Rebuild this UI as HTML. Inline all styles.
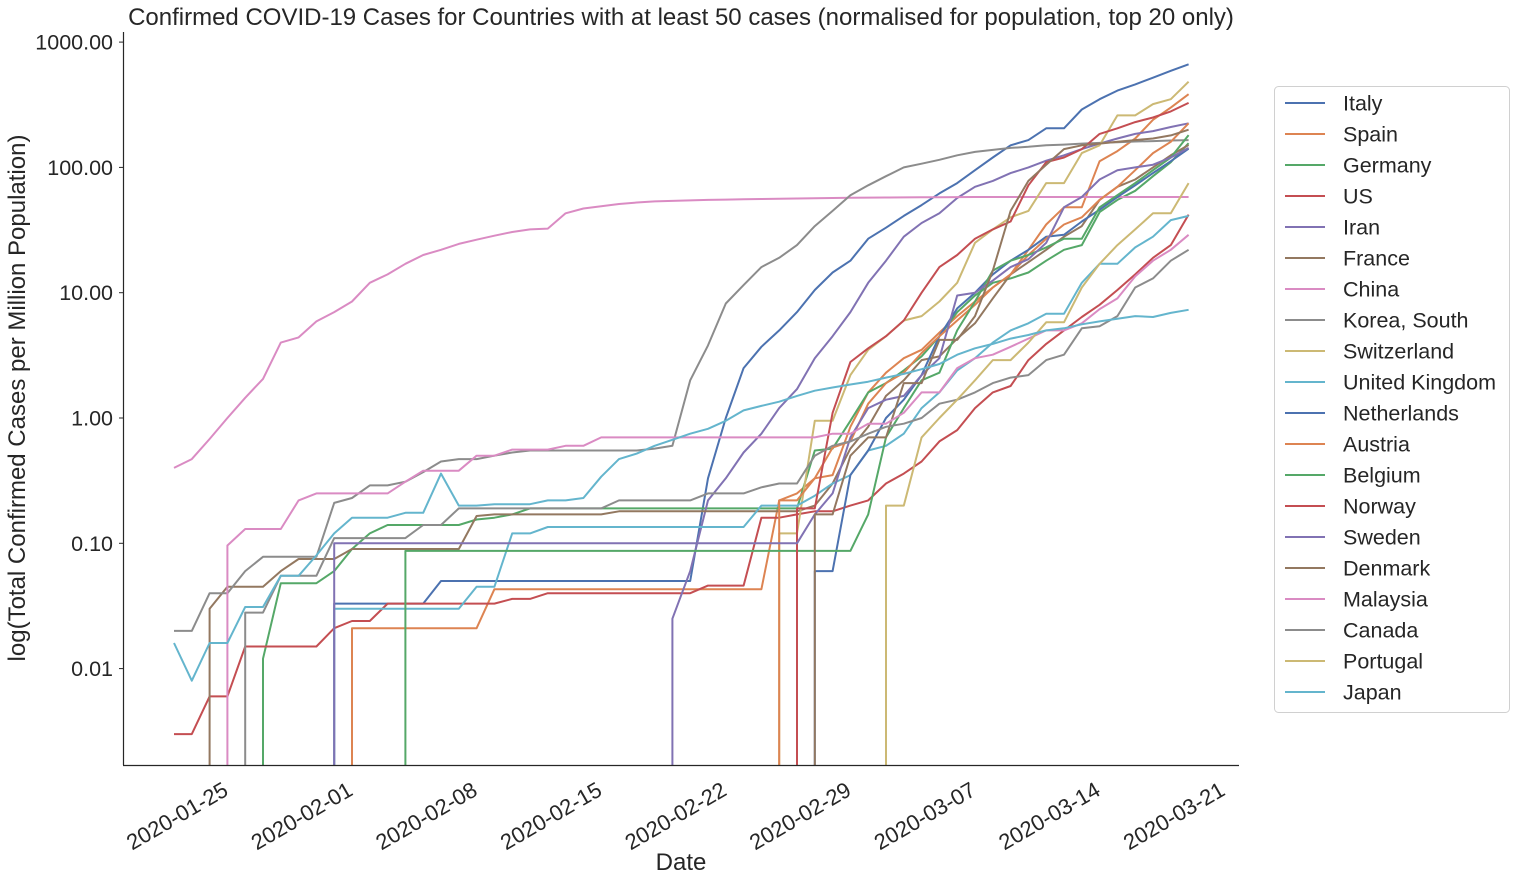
<!DOCTYPE html>
<html><head><meta charset="utf-8">
<style>
html,body{margin:0;padding:0;background:#fff;overflow:hidden;width:1515px;height:883px;}
svg{display:block;}
svg text{font-family:"Liberation Sans","DejaVu Sans",sans-serif;fill:#262626;}
</style></head>
<body>
<svg id="chart" width="1515" height="883" xmlns="http://www.w3.org/2000/svg">
<defs><clipPath id="plotclip"><rect x="123" y="32" width="1115" height="733"/></clipPath></defs>
<text x="681" y="25" font-size="24" text-anchor="middle">Confirmed COVID-19 Cases for Countries with at least 50 cases (normalised for population, top 20 only)</text>
<text transform="translate(25,398) rotate(-90)" font-size="24" text-anchor="middle">log(Total Confirmed Cases per Million Population)</text>
<text x="681" y="870" font-size="24" text-anchor="middle">Date</text>
<g id="series" clip-path="url(#plotclip)"></g>
<line x1="123.5" y1="32" x2="123.5" y2="765" stroke="#262626" stroke-width="1.2"/>
<line x1="123" y1="765.5" x2="1239" y2="765.5" stroke="#262626" stroke-width="1.2"/>
<g id="yticks"></g><g id="xticks"></g>
<g id="legend"></g>
</svg>
<script>
const countries=["Italy","Spain","Germany","US","Iran","France","China","Korea, South","Switzerland","United Kingdom","Netherlands","Austria","Belgium","Norway","Sweden","Denmark","Malaysia","Canada","Portugal","Japan"];
const colors=["#4C72B0","#DD8452","#55A868","#C44E52","#8172B3","#937860","#DA8BC3","#8C8C8C","#CCB974","#64B5CD"];
const yTickValues=[0.01,0.1,1,10,100,1000];
const yTickLabels=["0.01","0.10","1.00","10.00","100.00","1000.00"];
const xTickDays=[3,10,17,24,31,38,45,52,59];
const xTickLabels=["2020-01-25","2020-02-01","2020-02-08","2020-02-15","2020-02-22","2020-02-29","2020-03-07","2020-03-14","2020-03-21"];
function z(n){return Array(n).fill(0);}
function r(v,n){return Array(n).fill(v);}
const italy=[...z(9),...r(0.033,6),...r(0.05,15),0.33,1.0,2.5,3.7,5.0,7.0,10.5,14.5,18,27,33,41,50,62,75,95,120,150,165,205,205,290,350,410,460,520,590,665];
const spain=[...z(10),...r(0.021,8),...r(0.043,16),0.22,0.25,0.33,0.35,0.85,1.6,2.3,3.0,3.5,4.8,6.5,8.5,11,14,22,35,48,48,112,135,170,240,300,384];
const germany=[0,0,0,0,0,0.012,0.048,0.048,0.048,0.06,0.09,0.12,0.14,0.14,0.14,0.14,0.14,0.155,0.16,0.17,...r(0.19,16),0.55,0.57,0.95,1.6,1.9,2.4,3.1,4.5,7,9.5,12,13,14.5,18,22,24,44,55,65,85,110,156];
const us=[0.003,0.003,0.006,0.006,0.015,0.015,0.015,0.015,0.015,0.021,0.024,0.024,0.033,0.033,0.033,0.033,0.033,0.033,0.033,0.036,0.036,...r(0.04,9),0.046,0.046,0.046,0.16,0.16,0.17,0.18,0.18,0.2,0.22,0.3,0.36,0.45,0.65,0.8,1.2,1.6,1.8,2.9,3.9,5.0,6.4,8.0,10.5,14,19,24,42];
const iran=[...z(28),0.025,0.06,0.22,0.33,0.53,0.75,1.2,1.7,3.0,4.5,7,12,18,28,36,43,57,70,78,90,100,113,125,140,155,170,185,195,210,225];
const france=[0,0,0.03,0.045,0.045,0.045,0.06,0.075,0.075,0.075,0.09,0.09,0.09,0.09,0.09,0.09,0.09,0.165,...r(0.17,7),...r(0.18,11),0.2,0.3,0.57,0.85,1.5,2.0,2.9,3.1,4.3,5.7,9,14,17.5,22,28,34,55,70,80,100,125,151];
const china=[0.4,0.47,0.68,1.0,1.45,2.05,4.0,4.4,5.9,7.0,8.5,12,14,17,20,22,24.5,26.5,28.5,30.5,32,32.5,43,47,49,51,52.5,53.5,54,54.5,55,55.3,55.6,56,56.3,56.5,56.8,57,57.2,57.4,57.5,57.6,57.7,57.8,57.9,58,58,58,58,58,58,58,58,58,58,58,58,58];
const korea=[0.02,0.02,0.04,0.04,0.06,0.078,0.078,0.078,0.078,0.21,0.23,0.29,0.29,0.31,0.37,0.45,0.47,0.47,0.5,0.53,0.55,0.55,0.55,0.55,0.55,0.55,0.55,0.57,0.6,2.0,3.8,8.2,11.5,16,19,24,34,45,60,72,85,100,107,115,125,133,138,143,146,150,152,155,157,159,161,162,164,165];
const switzerland=[...z(34),0.12,0.12,0.95,0.95,2.2,3.5,4.5,6,6.5,8.5,12,25,32,40,45,75,75,130,150,260,260,320,350,483];
const uk=[...z(9),...r(0.03,8),0.045,0.045,0.12,0.12,...r(0.135,12),0.2,0.2,0.2,0.24,0.3,0.35,0.55,0.6,0.75,1.2,1.6,2.4,3.0,4.0,5.0,5.7,6.8,6.8,12,17,17,23,28,38,41];
const netherlands=[...z(36),0.06,0.06,0.35,0.55,1.0,1.4,2.2,4.5,7.5,10,14,18,22,28,29,37,46,58,72,90,112,141];
const austria=[...z(34),0.22,0.22,0.33,0.58,0.65,1.3,1.9,2.3,3.3,4.5,6.0,8.0,11,14,20,27,35,40,55,70,95,130,160,225];
const belgium=[...z(13),...r(0.087,26),0.17,0.7,1.2,2.0,2.3,5.0,8.5,15,18,20,23,27,27,48,60,75,95,120,181];
const norway=[...z(35),0.19,0.19,1.1,2.8,3.6,4.5,6.0,10,16,20,27,32,37,72,110,120,140,185,205,230,250,280,327];
const sweden=[...z(9),...r(0.1,27),0.17,0.25,0.7,1.2,1.4,1.5,2.2,3.0,9.5,10,12.5,16,18.5,25,48,58,80,95,100,105,120,143];
const denmark=[...z(36),0.17,0.17,0.5,0.7,0.7,1.9,1.9,4.2,4.2,6.5,15,45,78,105,140,150,155,160,165,170,180,200];
const malaysia=[0,0,0,0.096,0.13,0.13,0.13,0.22,0.25,0.25,0.25,0.25,0.25,0.31,0.38,0.38,0.38,0.5,0.5,0.56,0.56,0.56,0.6,0.6,...r(0.7,13),0.75,0.75,0.9,0.9,1.1,1.6,1.6,2.5,3.0,3.2,3.7,4.3,5.0,5.0,5.7,7.4,9,13.5,18,22,29];
const canada=[0,0,0,0,0.028,0.028,0.055,0.055,0.055,0.11,0.11,0.11,0.11,0.11,0.14,0.14,0.19,0.19,0.19,0.19,0.19,0.19,0.19,0.19,0.19,0.22,0.22,0.22,0.22,0.22,0.25,0.25,0.25,0.28,0.3,0.3,0.5,0.6,0.65,0.75,0.85,0.9,1.0,1.3,1.4,1.6,1.9,2.1,2.2,2.9,3.2,5.2,5.4,6.5,11,13,18,22];
const portugal=[...z(40),0.2,0.2,0.7,1.0,1.4,2.0,2.9,2.9,4.0,5.8,5.8,11,17,24,32,43,43,75];
const japan=[0.016,0.008,0.016,0.016,0.031,0.031,0.055,0.055,0.08,0.12,0.16,0.16,0.16,0.175,0.175,0.36,0.2,0.2,0.205,0.205,0.205,0.22,0.22,0.23,0.34,0.47,0.52,0.6,0.67,0.75,0.82,0.95,1.15,1.25,1.35,1.5,1.65,1.75,1.85,1.95,2.1,2.25,2.45,2.7,3.2,3.6,3.9,4.3,4.6,5.0,5.2,5.6,5.9,6.2,6.5,6.4,6.9,7.3];
const seriesData=[italy,spain,germany,us,iran,france,china,korea,switzerland,uk,netherlands,austria,belgium,norway,sweden,denmark,malaysia,canada,portugal,japan];

const NS="http://www.w3.org/2000/svg";
const BOTTOM=768;
function xScale(d){return 174+17.8*d;}
function yScale(v){return 418-125.3*Math.log10(v);}
function mk(tag,attrs,parent){const e=document.createElementNS(NS,tag);for(const k in attrs)e.setAttribute(k,attrs[k]);parent.appendChild(e);return e;}

const sg=document.getElementById('series');
seriesData.forEach((arr,i)=>{
  const pts=[];
  arr.forEach((v,d)=>{
    if(v<=0)return;
    if(d>0&&arr[d-1]<=0)pts.push(xScale(d).toFixed(1)+","+BOTTOM);
    pts.push(xScale(d).toFixed(1)+","+yScale(v).toFixed(1));
  });
  const p=mk('polyline',{points:pts.join(" "),fill:"none",stroke:colors[i%10],"stroke-width":2,"stroke-linejoin":"round"},sg);
  
  
});

const yt=document.getElementById('yticks');
yTickValues.forEach((v,i)=>{
  const y=yScale(v);
  const l=mk('line',{x1:119,x2:123,y1:y,y2:y,stroke:"#262626"},yt);
  
  
  const t=mk('text',{x:113,y:y+7.5,"font-size":21.5,"text-anchor":"end"},yt);
  t.textContent=yTickLabels[i];
  
  
});
const xt=document.getElementById('xticks');
xTickDays.forEach((d,i)=>{
  const x=xScale(d);
  const t=mk('text',{transform:`translate(${x-6},${780}) rotate(-30)`,"font-size":22,"text-anchor":"end",dy:"0.75em"},xt);
  t.textContent=xTickLabels[i];
  
  
});

const lg=document.getElementById('legend');
const box=mk('rect',{x:1274.5,y:86.5,width:235,height:626,rx:4,fill:"#fff",stroke:"#d0d0d0"},lg);


countries.forEach((c,i)=>{
  const y=103+31*i;
  const g=mk('g',{},lg);
  
  
  mk('line',{x1:1285,x2:1325,y1:y,y2:y,stroke:colors[i%10],"stroke-width":2},g);
  const t=mk('text',{x:1343,y:y+7.5,"font-size":21.5},g);
  t.textContent=c;
});
</script>
</body></html>
